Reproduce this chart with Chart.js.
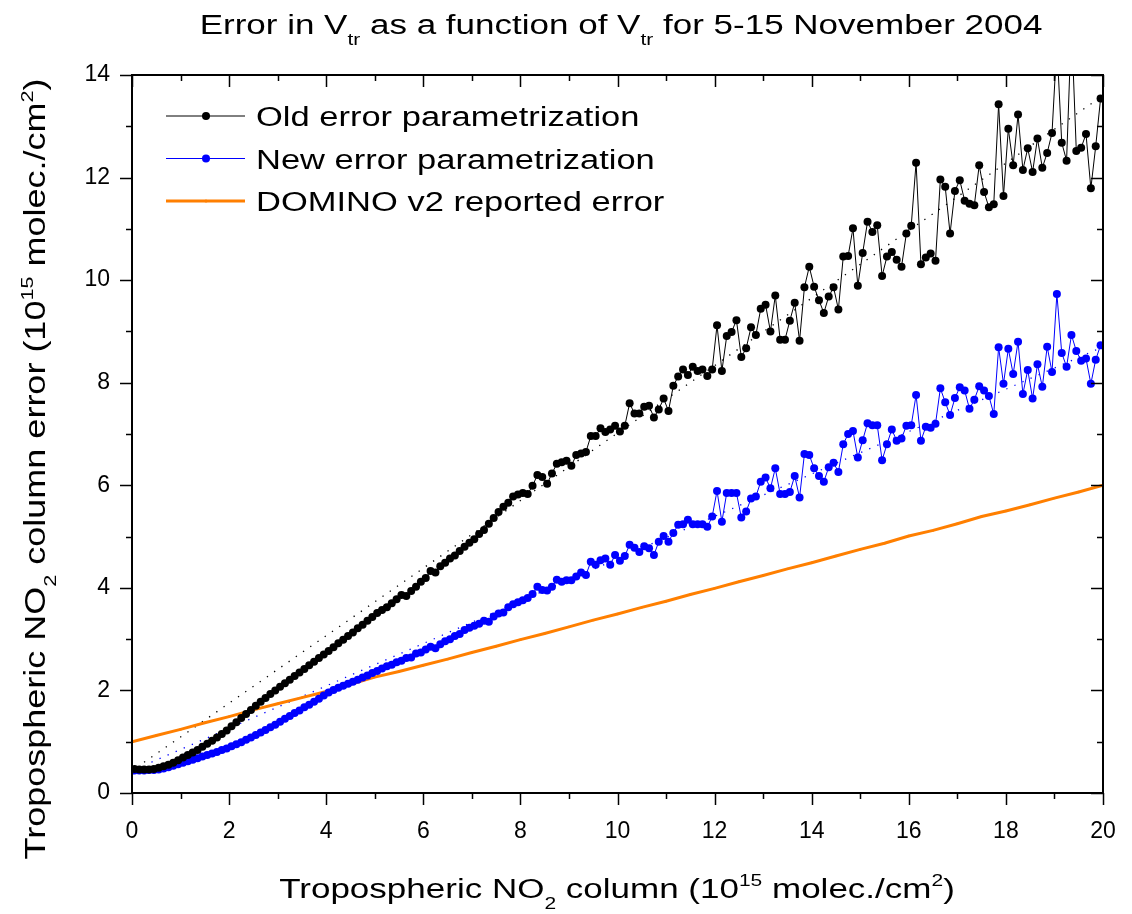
<!DOCTYPE html>
<html>
<head>
<meta charset="utf-8">
<script src="https://cdn.jsdelivr.net/npm/chart.js@4.4.1/dist/chart.umd.min.js"></script>
<style>
  body { margin: 0; background: #fff; }
  #wrap { width: 1132px; height: 914px; }
</style>
</head>
<body>
<div id="wrap"><canvas id="errChart" width="1132" height="914"></canvas></div>
<script>
// tropospheric column bins, 0.1e15 wide (x = bin centre)
const binCentres = Array.from({ length: 200 }, (_, i) => +(0.05 + 0.1 * i).toFixed(2));

// old error parametrization (1e15 molec/cm2)
const oldError = [
  0.47, 0.46, 0.46, 0.46, 0.47, 0.49, 0.52, 0.55, 0.59, 0.64,
  0.69, 0.74, 0.79, 0.84, 0.90, 0.96, 1.02, 1.08, 1.15, 1.22,
  1.30, 1.38, 1.46, 1.54, 1.62, 1.70, 1.78, 1.85, 1.93, 2.00,
  2.07, 2.14, 2.21, 2.28, 2.35, 2.42, 2.49, 2.56, 2.63, 2.70,
  2.77, 2.84, 2.92, 2.99, 3.06, 3.13, 3.21, 3.28, 3.36, 3.43,
  3.51, 3.57, 3.62, 3.70, 3.78, 3.86, 3.84, 3.94, 4.02, 4.12,
  4.19, 4.33, 4.30, 4.42, 4.49, 4.57, 4.63, 4.72, 4.80, 4.88,
  4.95, 5.05, 5.13, 5.25, 5.36, 5.48, 5.58, 5.66, 5.78, 5.82,
  5.85, 5.83, 5.99, 6.20, 6.16, 6.03, 6.23, 6.42, 6.45, 6.48,
  6.38, 6.59, 6.62, 6.65, 6.96, 6.96, 7.11, 7.04, 7.09, 7.16,
  7.05, 7.16, 7.60, 7.40, 7.40, 7.53, 7.55, 7.32, 7.48, 7.69,
  7.45, 7.94, 8.12, 8.26, 8.15, 8.31, 8.23, 8.26, 8.13, 8.26,
  9.12, 8.23, 8.91, 8.99, 9.22, 8.50, 8.67, 9.08, 8.93, 9.44,
  9.52, 9.00, 9.70, 8.84, 8.84, 9.21, 9.56, 8.82, 9.86, 10.26,
  9.87, 9.61, 9.36, 9.68, 9.86, 9.43, 10.46, 10.47, 11.01, 9.89,
  10.53, 11.14, 10.94, 11.07, 10.08, 10.46, 10.55, 10.40, 10.26, 10.91,
  11.06, 12.29, 10.31, 10.44, 10.52, 10.38, 11.96, 11.82, 10.91, 11.74,
  11.95, 11.55, 11.49, 11.46, 12.24, 11.72, 11.42, 11.48, 13.43, 11.64,
  12.95, 12.24, 13.23, 12.15, 12.57, 12.11, 12.76, 12.19, 12.48, 12.87,
  14.60, 12.68, 12.33, 15.00, 12.52, 12.58, 12.85, 11.79, 12.61, 13.54
];

// new error parametrization
const newError = [
  0.44, 0.44, 0.44, 0.45, 0.45, 0.46, 0.48, 0.50, 0.53, 0.56,
  0.59, 0.62, 0.65, 0.68, 0.71, 0.74, 0.77, 0.80, 0.84, 0.87,
  0.91, 0.95, 0.99, 1.04, 1.08, 1.13, 1.18, 1.23, 1.28, 1.33,
  1.39, 1.45, 1.50, 1.56, 1.61, 1.67, 1.72, 1.78, 1.84, 1.90,
  1.96, 2.01, 2.05, 2.09, 2.13, 2.17, 2.21, 2.25, 2.29, 2.34,
  2.38, 2.43, 2.47, 2.50, 2.55, 2.58, 2.63, 2.64, 2.72, 2.74,
  2.80, 2.85, 2.82, 2.90, 2.96, 3.00, 3.06, 3.10, 3.18, 3.22,
  3.26, 3.30, 3.36, 3.34, 3.44, 3.50, 3.52, 3.62, 3.68, 3.72,
  3.76, 3.80, 3.88, 4.02, 3.96, 3.95, 4.02, 4.16, 4.12, 4.15,
  4.15, 4.22, 4.30, 4.25, 4.51, 4.45, 4.54, 4.57, 4.45, 4.64,
  4.53, 4.62, 4.84, 4.78, 4.70, 4.81, 4.77, 4.64, 4.90, 5.01,
  4.90, 5.07, 5.23, 5.24, 5.33, 5.24, 5.24, 5.24, 5.19, 5.39,
  5.89, 5.29, 5.85, 5.85, 5.85, 5.37, 5.49, 5.74, 5.78, 6.07,
  6.15, 5.94, 6.33, 5.83, 5.83, 5.87, 6.18, 5.76, 6.61, 6.59,
  6.33, 6.18, 6.07, 6.35, 6.44, 6.26, 6.80, 7.00, 7.06, 6.54,
  6.88, 7.21, 7.17, 7.17, 6.49, 6.80, 7.09, 6.87, 6.91, 7.16,
  7.17, 7.76, 6.87, 7.14, 7.12, 7.20, 7.89, 7.62, 7.37, 7.70,
  7.91, 7.85, 7.49, 7.67, 7.93, 7.85, 7.74, 7.39, 8.69, 7.98,
  8.66, 8.17, 8.80, 7.78, 8.25, 7.69, 8.36, 7.92, 8.70, 8.21,
  9.73, 8.58, 8.31, 8.93, 8.62, 8.43, 8.47, 7.98, 8.45, 8.73
];

// DOMINO v2 reported error
const dominoX = [0, 0.5, 1, 1.5, 2, 2.5, 3, 3.5, 4, 4.5, 5, 5.5, 6, 6.5, 7, 7.5, 8, 8.5, 9, 9.5,
  10, 10.5, 11, 11.5, 12, 12.5, 13, 13.5, 14, 14.5, 15, 15.5, 16, 16.5, 17, 17.5, 18, 18.5, 19, 19.5, 20];
const dominoError = [1.00, 1.12, 1.24, 1.37, 1.49, 1.62, 1.74, 1.86, 1.98, 2.12, 2.26, 2.37, 2.49, 2.61, 2.74, 2.86, 2.99, 3.11, 3.24, 3.37,
  3.49, 3.62, 3.74, 3.87, 3.99, 4.12, 4.24, 4.37, 4.49, 4.62, 4.75, 4.87, 5.01, 5.12, 5.25, 5.39, 5.50, 5.62, 5.75, 5.87, 6.00];

// dotted linear fits
const oldFitX = [0.1, 20];
const oldFitY = [0.5, 13.6];
const newFitX = [0.4, 20];
const newFitY = [0.6, 8.7];

const xTicks = [0, 2, 4, 6, 8, 10, 12, 14, 16, 18, 20];
const yTicks = [0, 2, 4, 6, 8, 10, 12, 14];

const FAM = 'Arial, "Liberation Sans", sans-serif';
const ORANGE = '#ff7f00';
const BLUE = '#0000ff';

const pts = (xs, ys) => xs.map((x, i) => ({ x: x, y: ys[i] }));

// text with sub/superscripts, sy squashes it vertically like the original
function drawRich(ctx, parts, x, y, size, align, sy) {
    ctx.save();
    ctx.translate(x, y);
    ctx.scale(1, sy);
    ctx.textBaseline = 'alphabetic';
    ctx.textAlign = 'left';
    ctx.fillStyle = '#000';
    let w = 0;
    parts.forEach(p => {
        ctx.font = (p[1] ? size * 0.6 : size) + 'px ' + FAM;
        w += ctx.measureText(p[0]).width;
    });
    let cx = align === 'center' ? -w / 2 : 0;
    parts.forEach(p => {
        ctx.font = (p[1] ? size * 0.6 : size) + 'px ' + FAM;
        const dy = p[1] === 'sub' ? size * 0.38 : (p[1] === 'sup' ? -size * 0.42 : 0);
        ctx.fillText(p[0], cx, dy);
        cx += ctx.measureText(p[0]).width;
    });
    ctx.restore();
}

const titleParts = [['Error in V'], ['tr', 'sub'], [' as a function of V'], ['tr', 'sub'], [' for 5-15 November 2004']];
const xTitleParts = [['Tropospheric NO'], ['2', 'sub'], [' column (10'], ['15', 'sup'], [' molec./cm'], ['2', 'sup'], [')']];
const yTitleParts = [['Tropospheric NO'], ['2', 'sub'], [' column error (10'], ['15', 'sup'], [' molec./cm'], ['2', 'sup'], [')']];

const frameAndText = {
    id: 'frameAndText',
    afterDraw(chart) {
        const ctx = chart.ctx;
        const a = chart.chartArea;
        const xs = chart.scales.x, ys = chart.scales.y;

        // box + ticks (major every 2, minor every 1)
        ctx.save();
        ctx.strokeStyle = '#000';
        ctx.lineWidth = 2;
        ctx.strokeRect(a.left, a.top, a.right - a.left, a.bottom - a.top);
        ctx.lineWidth = 1.5;
        ctx.beginPath();
        for (let v = 0; v <= 20; v++) {
            const px = Math.round(xs.getPixelForValue(v)) + 0.5;
            const len = v % 2 === 0 ? 12 : 6;
            ctx.moveTo(px, a.bottom); ctx.lineTo(px, a.bottom + len);
            ctx.moveTo(px, a.top); ctx.lineTo(px, a.top + len);
        }
        for (let v = 0; v <= 14; v++) {
            const py = Math.round(ys.getPixelForValue(v)) + 0.5;
            const len = v % 2 === 0 ? 12 : 6;
            ctx.moveTo(a.left - len, py); ctx.lineTo(a.left, py);
            ctx.moveTo(a.right - len, py); ctx.lineTo(a.right, py);
        }
        ctx.stroke();
        ctx.restore();

        // titles
        drawRich(ctx, titleParts, 621, 34, 35, 'center', 0.8);
        drawRich(ctx, xTitleParts, 617, 898, 35, 'center', 0.8);
        ctx.save();
        ctx.translate(45, 469);
        ctx.rotate(-Math.PI / 2);
        drawRich(ctx, yTitleParts, 0, 0, 36, 'center', 0.8);
        ctx.restore();

        // legend
        const rows = [
            { label: 'Old error parametrization', color: '#000', width: 1, r: 4 },
            { label: 'New error parametrization', color: BLUE, width: 1, r: 4 },
            { label: 'DOMINO v2 reported error', color: ORANGE, width: 3, r: 1.5 }
        ];
        rows.forEach((row, i) => {
            const y = 116 + i * 42.5;
            ctx.save();
            ctx.strokeStyle = row.color;
            ctx.fillStyle = row.color;
            ctx.lineWidth = row.width;
            ctx.beginPath();
            ctx.moveTo(166, y); ctx.lineTo(245, y);
            ctx.stroke();
            ctx.beginPath();
            ctx.arc(206, y, row.r, 0, Math.PI * 2);
            ctx.fill();
            ctx.restore();
            drawRich(ctx, [[row.label]], 256, y + 10, 34.5, 'left', 0.8);
        });
    }
};

const ctx = document.getElementById('errChart').getContext('2d');
new Chart(ctx, {
    type: 'scatter',
    data: {
        datasets: [
            {
                label: 'Old error parametrization',
                data: pts(binCentres, oldError),
                showLine: true,
                borderColor: '#000',
                backgroundColor: '#000',
                borderWidth: 1,
                pointRadius: 4,
                pointBorderWidth: 0
            },
            {
                label: 'New error parametrization',
                data: pts(binCentres, newError),
                showLine: true,
                borderColor: BLUE,
                backgroundColor: BLUE,
                borderWidth: 1,
                pointRadius: 4,
                pointBorderWidth: 0
            },
            {
                label: 'DOMINO v2 reported error',
                data: pts(dominoX, dominoError),
                showLine: true,
                borderColor: ORANGE,
                backgroundColor: ORANGE,
                borderWidth: 3,
                pointRadius: 1.2,
                pointBorderWidth: 0
            },
            {
                label: 'old fit',
                data: pts(oldFitX, oldFitY),
                showLine: true,
                borderColor: '#000',
                borderWidth: 1.3,
                borderDash: [1.3, 7.5],
                pointRadius: 0
            },
            {
                label: 'new fit',
                data: pts(newFitX, newFitY),
                showLine: true,
                borderColor: BLUE,
                borderWidth: 1.3,
                borderDash: [1.3, 7.5],
                pointRadius: 0
            }
        ]
    },
    options: {
        responsive: false,
        animation: false,
        devicePixelRatio: 1,
        layout: { padding: { top: 75, right: 29, left: 0, bottom: 0 } },
        plugins: {
            legend: { display: false },
            title: { display: false },
            tooltip: { enabled: false }
        },
        scales: {
            x: {
                type: 'linear',
                min: 0,
                max: 20,
                afterFit: s => { s.height = 121; s.paddingLeft = 0; s.paddingRight = 0; },
                afterBuildTicks: s => { s.ticks = xTicks.map(v => ({ value: v })); },
                ticks: { font: { size: 23, family: FAM }, color: '#000', padding: 25, maxRotation: 0, autoSkip: false },
                grid: { display: true, drawOnChartArea: false, drawTicks: false },
                border: { display: false }
            },
            y: {
                type: 'linear',
                min: 0,
                max: 14,
                afterFit: s => { s.width = 132; s.paddingTop = 0; s.paddingBottom = 0; },
                afterBuildTicks: s => { s.ticks = yTicks.map(v => ({ value: v })); },
                ticks: { font: { size: 23, family: FAM }, color: '#000', padding: 22, autoSkip: false },
                grid: { display: true, drawOnChartArea: false, drawTicks: false },
                border: { display: false }
            }
        }
    },
    plugins: [frameAndText]
});
</script>
</body>
</html>
